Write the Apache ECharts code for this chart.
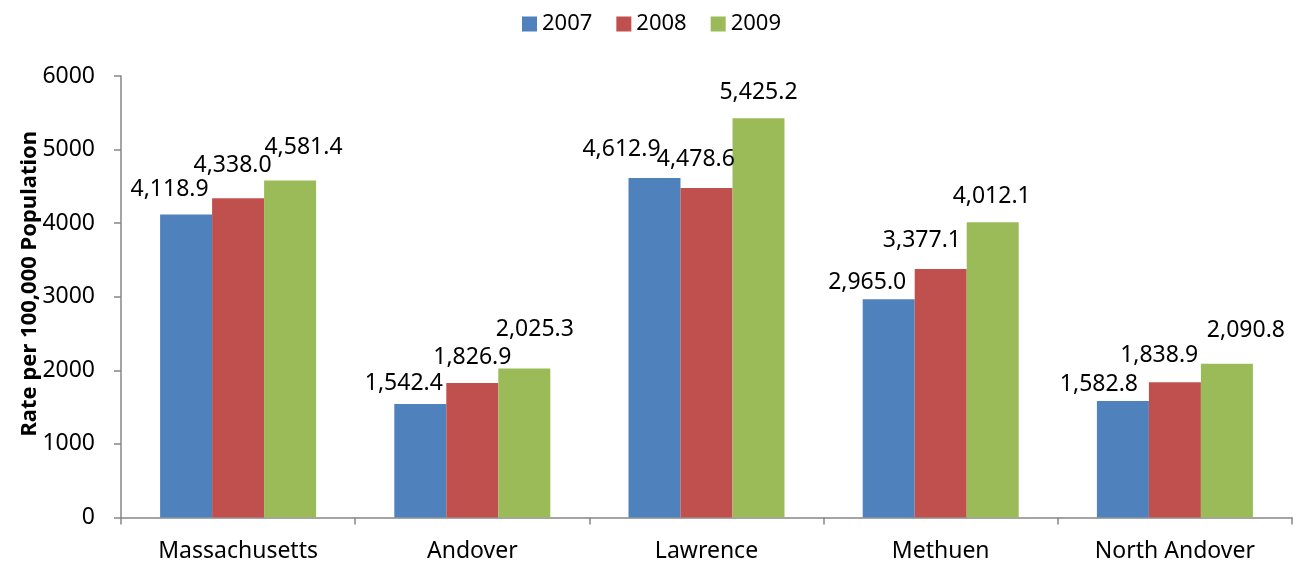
<!DOCTYPE html>
<html>
<head>
<meta charset="utf-8">
<script src="https://cdn.jsdelivr.net/npm/echarts@6/dist/echarts.min.js"></script>
<style>
  html, body { margin: 0; padding: 0; background: #ffffff; }
  #chart { width: 1305px; height: 565px; }
</style>
</head>
<body>
<div id="chart"></div>
<script>
// Rates per 100,000 population by community and year
const categories = ['Massachusetts', 'Andover', 'Lawrence', 'Methuen', 'North Andover'];
const years = ['2007', '2008', '2009'];
const values2007 = [4118.9, 1542.4, 4612.9, 2965.0, 1582.8];
const values2008 = [4338.0, 1826.9, 4478.6, 3377.1, 1838.9];
const values2009 = [4581.4, 2025.3, 5425.2, 4012.1, 2090.8];
const yTicks = { min: 0, max: 6000, interval: 1000 };

// Hand-placed value labels: [horizontal shift, gap above bar top to text baseline]
const nudge2007 = [[-16.5, 18.6], [-16.5, 14], [-33, 21.7], [-21.5, 10], [-24, 10]];
const nudge2008 = [[-5.5, 26.6], [0, 19.3], [-10.7, 21.7], [-18.8, 22], [-15.7, 20.7]];
const nudge2009 = [[13.4, 26.7], [10.5, 33], [0, 19], [-1, 19.6], [19, 26.7]];

const colors = ['#4F81BD', '#C0504D', '#9BBB59'];
const FONT = '"Noto Sans", "Open Sans", sans-serif';
const axisGray = '#868686';

function fmt(v) {
  return v.toLocaleString('en-US', { minimumFractionDigits: 1, maximumFractionDigits: 1 });
}

function buildSeries(name, values, nudge, color) {
  return {
    name: name,
    type: 'bar',
    barWidth: 52,
    barGap: '0%',
    itemStyle: { color: color },
    label: {
      show: true,
      position: 'top',
      distance: 0,
      color: '#000',
      fontFamily: FONT,
      fontSize: 23,
      formatter: p => fmt(p.value)
    },
    data: values.map((v, i) => ({
      value: v,
      label: { offset: [nudge[i][0], -(nudge[i][1] - 5)] }
    }))
  };
}

const chart = echarts.init(document.getElementById('chart'), null, { renderer: 'canvas' });
chart.setOption({
  animation: false,
  color: colors,
  textStyle: { fontFamily: FONT },
  legend: {
    data: years,
    left: 517,
    top: 8,
    itemWidth: 15,
    itemHeight: 15,
    itemGap: 24,
    icon: 'rect',
    textStyle: { fontFamily: FONT, fontSize: 22, color: '#000' }
  },
  grid: { left: 121, right: 13, top: 76, bottom: 47.5, containLabel: false },
  xAxis: {
    type: 'category',
    data: categories,
    axisLine: { lineStyle: { color: axisGray, width: 1.5 } },
    axisTick: { show: true, length: 7, alignWithLabel: false, lineStyle: { color: axisGray, width: 1.5 } },
    axisLabel: { color: '#000', fontFamily: FONT, fontSize: 23, margin: 22 },
    splitLine: { show: false }
  },
  yAxis: {
    type: 'value',
    min: yTicks.min,
    max: yTicks.max,
    interval: yTicks.interval,
    name: 'Rate per 100,000 Population',
    nameLocation: 'middle',
    nameRotate: 90,
    nameGap: 80,
    nameMoveOverlap: false,
    nameTextStyle: {
      color: '#000', fontFamily: FONT, fontSize: 22, fontWeight: 'bold',
      padding: [0, 0, 0, 26]
    },
    axisLine: { show: true, lineStyle: { color: axisGray, width: 1.5 } },
    axisTick: { show: true, length: 7, inside: false, lineStyle: { color: axisGray, width: 1.5 } },
    axisLabel: { color: '#000', fontFamily: FONT, fontSize: 23, margin: 26, formatter: v => String(v) },
    splitLine: { show: false }
  },
  series: [
    buildSeries(years[0], values2007, nudge2007, colors[0]),
    buildSeries(years[1], values2008, nudge2008, colors[1]),
    buildSeries(years[2], values2009, nudge2009, colors[2])
  ]
});
</script>
</body>
</html>
